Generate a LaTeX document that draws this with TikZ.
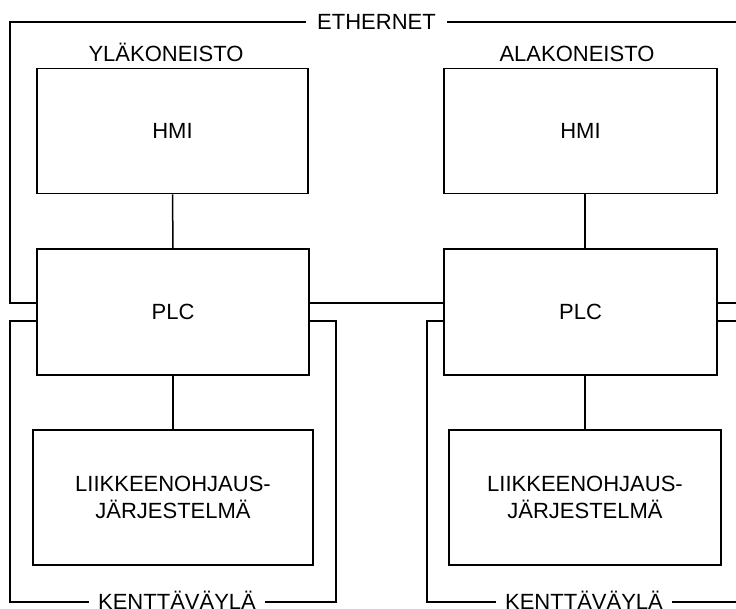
\documentclass[tikz,border=0pt]{standalone}
\usepackage{fontspec}
\setmainfont{Liberation Sans}
\begin{document}
\begin{tikzpicture}[x=1pt,y=-1pt,
  every node/.style={font=\fontsize{22}{27}\selectfont},
  box/.style={draw, line width=1.5pt, inner sep=0pt, align=center},
  lbl/.style={inner xsep=11pt, inner ysep=0pt, text height=15.8pt, text depth=0pt},
  ttl/.style={anchor=base, inner sep=0pt},
  wire/.style={line width=1.5pt}]
\useasboundingbox (0,0) rectangle (736,608);
% boxes
\node[box, minimum width=271pt, minimum height=125pt] (hmiL) at (172.5,131) {HMI};
\node[box, minimum width=272pt, minimum height=126pt] (plcL) at (173,312) {PLC};
\node[box, minimum width=280pt, minimum height=135pt] (mcL) at (173,497.5) {LIIKKEENOHJAUS-\\JÄRJESTELMÄ};
\node[box, minimum width=273pt, minimum height=125pt] (hmiR) at (580.5,131) {HMI};
\node[box, minimum width=273pt, minimum height=126pt] (plcR) at (580.5,312) {PLC};
\node[box, minimum width=272pt, minimum height=135pt] (mcR) at (585,497.5) {LIIKKEENOHJAUS-\\JÄRJESTELMÄ};
% titles
\node[ttl] (tL) at (166,61) {YLÄKONEISTO};
\node[ttl] (tR) at (577,61) {ALAKONEISTO};
% line labels
\node[lbl] (eth) at (376.5,22) {ETHERNET};
\node[lbl, inner xsep=9pt] (kvL) at (177,602) {KENTTÄVÄYLÄ};
\node[lbl, inner xsep=9pt] (kvR) at (584,602) {KENTTÄVÄYLÄ};
% free ends
\coordinate (eTL) at (10,22);
\coordinate (eBL) at (10,303);
\coordinate (eR) at (736,22);
\coordinate (eRR) at (736,303);
\coordinate (fL1) at (10,321);
\coordinate (fL2) at (336,321);
\coordinate (fR1) at (427,321);
\coordinate (fRR) at (736,321);
\coordinate (fRB) at (736,602);
% vertical links
\draw[wire] (hmiL) -- (plcL);
\draw[wire] (plcL) -- (mcL);
\draw[wire] (hmiR.south -| mcR) -- (plcR.north -| mcR);
\draw[wire] (plcR.south -| mcR) -- (mcR);
% ethernet
\draw[wire] (eth.west) -- (eTL) -- (eBL) -- (eBL -| plcL.west);
\draw[wire] (eth.east) -- (eR);
\draw[wire] (plcL.east |- eBL) -- (plcR.west |- eBL);
\draw[wire] (plcR.east |- eBL) -- (eRR);
% field bus left
\draw[wire] (plcL.west |- fL1) -- (fL1) |- (kvL.west);
\draw[wire] (kvL.east) -| (fL2) -- (plcL.east |- fL2);
% field bus right
\draw[wire] (plcR.west |- fR1) -- (fR1) |- (kvR.west);
\draw[wire] (kvR.east) -- (fRB);
\draw[wire] (plcR.east |- fRR) -- (fRR);
\end{tikzpicture}
\end{document}
